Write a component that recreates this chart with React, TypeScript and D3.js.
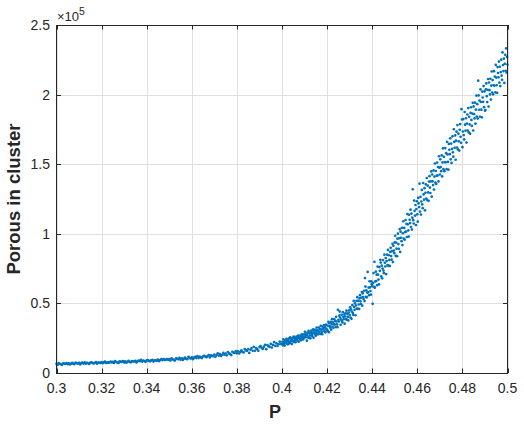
import React from "react";
import * as d3 from "d3";

// x tick labels and y tick values (×10^5)
const xTicks = [0.3, 0.32, 0.34, 0.36, 0.38, 0.4, 0.42, 0.44, 0.46, 0.48, 0.5];
const yTicks = [0, 0.5, 1, 1.5, 2, 2.5];

// Sweep of P: low range sampled every 0.0005 from 0.3, high range every 0.0002 from 0.4002
const lowStart = 0.3;
const lowStep = 0.0005;
const highStart = 0.4002;
const highStep = 0.0002;

// Porous in cluster (thousands), P = 0.300 – 0.400
const porousLowK = [
  6.6, 5.9, 7.1, 6.6, 6.2, 5.9, 7.0, 6.7, 6.5, 7.2,
  6.3, 7.0, 6.1, 6.7, 7.3, 6.6, 6.4, 7.5, 7.0, 6.8,
  7.3, 6.2, 7.1, 7.4, 6.7, 7.6, 6.7, 7.3, 7.0, 6.5,
  7.5, 7.7, 7.1, 6.9, 7.3, 7.9, 6.7, 7.5, 7.4, 7.2,
  7.8, 7.0, 7.6, 8.1, 7.2, 7.6, 7.4, 7.6, 8.1, 7.6,
  7.95, 7.2, 8.5, 7.9, 7.5, 7.2, 8.4, 8.1, 7.9, 8.6,
  7.6, 8.3, 7.4, 8.1, 8.7, 8.0, 7.7, 8.6, 8.4, 8.2,
  8.75, 7.6, 8.5, 8.95, 8.5, 9.5, 8.2, 8.9, 8.6, 8.0,
  9.0, 9.3, 8.7, 8.4, 9.0, 9.5, 8.2, 9.0, 9.0, 8.8,
  9.6, 8.6, 9.3, 9.95, 9.3, 9.9, 9.4, 9.45, 10.05, 9.55,
  9.9, 8.95, 10.6, 9.85, 9.4, 8.95, 10.5, 10.15, 9.9, 10.85,
  9.6, 10.6, 9.4, 10.3, 11.1, 10.15, 9.9, 11.6, 10.9, 10.5,
  11.3, 9.9, 11.1, 11.6, 10.7, 12.1, 10.7, 11.7, 11.2, 10.7,
  12.0, 12.4, 11.7, 11.4, 12.2, 12.85, 11.2, 12.7, 12.3, 12.1,
  13.3, 11.6, 12.9, 14.1, 12.4, 13.5, 12.3, 13.1, 14.4, 13.2,
  14.0, 12.7, 15.1, 14.1, 13.5, 12.9, 15.2, 14.7, 14.4, 15.8,
  14.1, 15.5, 14.0, 15.2, 16.3, 15.1, 14.8, 17.2, 16.2, 15.8,
  17.2, 14.4, 16.7, 17.9, 16.0, 18.8, 16.0, 17.9, 17.1, 16.0,
  18.6, 19.4, 18.0, 17.3, 18.9, 20.3, 17.1, 20.1, 19.2, 18.8,
  20.9, 18.3, 20.2, 22.2, 19.5, 21.3, 19.4, 20.7, 22.6, 20.9,
  21.0,
];

// Porous in cluster (thousands), P = 0.4002 – 0.5000
const porousHighK = [
  22.4, 19.9, 24.1, 22.2, 21.0, 19.7, 23.7, 22.7, 22.0, 24.5, 21.2, 23.6, 20.6, 22.8, 24.7, 22.1, 21.4, 25.7, 23.7, 22.8, 24.7, 20.9, 23.9, 25.3, 22.8,
  26.1, 22.3, 24.8, 23.6, 22.1, 25.3, 26.2, 24.2, 23.3, 25.2, 26.8, 22.5, 26.2, 25.0, 24.3, 26.8, 23.5, 25.7, 27.8, 24.6, 26.4, 24.1, 25.5, 27.7, 25.5,
  29.6, 27.0, 25.7, 28.3, 23.2, 27.1, 29.0, 25.6, 30.3, 25.2, 28.5, 26.9, 24.9, 29.2, 30.4, 27.7, 26.5, 29.0, 31.3, 25.4, 30.5, 28.9, 27.9, 31.2, 26.8,
  29.7, 32.7, 28.2, 30.8, 27.8, 29.7, 32.6, 29.6, 31.5, 28.1, 33.9, 31.2, 29.5, 27.9, 33.3, 32.0, 31.1, 34.4, 30.0, 33.3, 29.2, 32.1, 34.7, 31.3, 30.4,
  30.5, 33.8, 36.7, 29.3, 35.8, 33.6, 32.5, 36.7, 31.1, 34.9, 38.7, 33.0, 36.4, 32.5, 35.0, 38.7, 34.8, 37.3, 33.0, 40.4, 37.0, 34.9, 32.9, 45.4, 38.2,
  37.0, 41.2, 44.1, 39.8, 34.6, 38.4, 41.8, 37.5, 36.3, 43.7, 40.2, 38.6, 42.0, 35.4, 40.6, 43.0, 38.7, 44.8, 38.2, 42.5, 40.3, 37.8, 43.4, 45.0, 41.6,
  47.2, 39.8, 45.7, 38.9, 44.1, 48.7, 43.1, 41.8, 51.8, 47.4, 45.4, 50.0, 41.5, 48.5, 51.9, 46.3, 54.5, 46.0, 51.8, 49.2, 46.0, 53.6, 55.9, 51.5, 49.5,
  54.1, 58.1, 48.4, 57.2, 54.6, 53.2, 59.0, 51.7, 68.2, 62.1, 54.7, 59.3, 54.4, 57.8, 72.6, 58.0, 61.4, 55.9, 65.9, 61.5, 58.9, 56.3, 65.8, 63.8, 62.4,
  49.7, 64.8, 71.8, 61.9, 79.9, 61.3, 65.8, 72.8, 66.1, 70.6, 63.1, 76.4, 70.6, 67.1, 63.6, 76.1, 73.4, 81.3, 79.3, 69.4, 77.1, 68.0, 75.0, 81.1, 73.6,
  71.7, 85.0, 79.2, 76.5, 82.6, 71.1, 80.4, 85.0, 77.5, 88.4, 76.9, 84.6, 81.2, 76.9, 87.0, 89.9, 84.0, 81.4, 87.5, 92.8, 79.7, 91.4, 88.0, 86.1, 93.8,
  98.6, 84.2, 93.7, 89.3, 83.9, 96.5, 100.1, 92.6, 89.2, 96.8, 103.4, 87.0, 101.5, 97.1, 94.7, 104.3, 91.9, 100.4, 109.0, 96.6, 104.2, 95.8, 101.3, 109.9, 101.5,
  107.1, 97.7, 114.2, 106.8, 102.4, 98.0, 113.6, 110.1, 107.7, 117.3, 104.9, 114.5, 103.0, 111.6, 132.0, 109.8, 107.4, 123.9, 116.5, 113.1, 120.7, 106.3, 117.8, 123.4, 114.0,
  108.7, 125.8, 121.9, 119.2, 136.0, 116.0, 126.5, 113.8, 123.2, 131.5, 121.1, 118.4, 136.5, 128.3, 124.5, 132.8, 116.9, 129.5, 135.6, 125.2, 140.1, 124.2, 134.6, 129.7, 123.7,
  137.5, 141.4, 133.1, 129.3, 137.6, 144.8, 126.7, 142.6, 137.7, 135.0, 145.5, 131.8, 141.1, 150.5, 136.8, 145.1, 135.8, 141.8, 151.2, 141.9, 148.0, 137.6, 155.7, 147.5, 142.6,
  153.5, 148.0, 145.0, 156.3, 141.2, 151.3, 161.4, 146.4, 155.3, 145.0, 151.5, 161.6, 151.4, 157.9, 146.4, 166.1, 157.0, 151.6, 146.1, 164.6, 160.3, 157.2, 168.6, 153.5, 164.8,
  150.9, 161.0, 170.0, 158.5, 155.4, 175.1, 166.0, 161.8, 170.7, 153.2, 166.9, 173.4, 162.0, 178.1, 160.6, 171.9, 166.4, 159.8, 174.7, 178.8, 169.7, 165.4, 189.5, 182.1, 162.2,
  173.5, 182.4, 170.9, 167.8, 187.5, 178.4, 174.1, 183.0, 165.5, 179.2, 185.7, 174.2, 190.3, 172.8, 184.1, 178.6, 171.9, 186.8, 190.9, 181.8, 177.5, 186.4, 194.1, 174.2, 191.5,
  186.0, 182.9, 194.2, 179.1, 189.2, 199.3, 184.2, 193.1, 182.8, 210.0, 199.4, 189.1, 195.6, 184.1, 203.8, 194.7, 189.2, 183.7, 202.2, 197.9, 194.8, 206.1, 191.0, 202.3, 188.4,
  188.9, 203.8, 208.0, 198.9, 194.6, 203.5, 211.2, 191.4, 208.7, 203.2, 200.1, 211.4, 196.4, 206.5, 216.6, 201.5, 210.4, 200.2, 206.7, 216.8, 206.5, 213.0, 201.6, 221.3, 212.2,
  206.7, 201.2, 219.8, 215.5, 212.4, 223.7, 208.6, 220.0, 206.1, 216.2, 225.1, 213.6, 210.6, 230.3, 221.2, 216.9, 225.8, 208.4, 222.1, 228.6, 217.1, 233.2, 215.8, 227.1, 221.6,
];

const W = 524;
const H = 427;
const M = { left: 56.5, right: 507.5, top: 25, bottom: 373 };
const AXIS = "#262626";
const GRID = "#dfdfdf";
const DOT = "#0072BD";

export default function App() {
  const x = d3.scaleLinear().domain([0.3, 0.5]).range([M.left, M.right]);
  const y = d3.scaleLinear().domain([0, 2.5e5]).range([M.bottom, M.top]);

  const pts: [number, number][] = [];
  porousLowK.forEach((v, i) => pts.push([lowStart + i * lowStep, v * 1000]));
  porousHighK.forEach((v, i) => pts.push([highStart + i * highStep, v * 1000]));

  const font = "Arial, 'Liberation Sans', Helvetica, sans-serif";
  const tickLen = 4.5;

  return (
    <svg
      width={W}
      height={H}
      style={{ position: "absolute", left: 0, top: 0, background: "#fff" }}
      fontFamily={font}
    >
      <rect x={0} y={0} width={W} height={H} fill="#fff" />
      {xTicks.map((t) => (
        <line key={"gx" + t} x1={Math.round(x(t)) + 0.5} x2={Math.round(x(t)) + 0.5} y1={M.top} y2={M.bottom} stroke={GRID} strokeWidth={1} />
      ))}
      {yTicks.map((t) => (
        <line key={"gy" + t} x1={M.left} x2={M.right} y1={Math.round(y(t * 1e5)) + 0.5} y2={Math.round(y(t * 1e5)) + 0.5} stroke={GRID} strokeWidth={1} />
      ))}
      <g fill={DOT}>
        {pts.map(([p, v], i) => (
          <circle key={i} cx={x(p)} cy={y(v)} r={1.35} />
        ))}
      </g>
      <rect x={M.left} y={M.top + 0.5} width={M.right - M.left} height={M.bottom - M.top} fill="none" stroke={AXIS} strokeWidth={1} />
      {xTicks.map((t) => {
        const xx = Math.round(x(t)) + 0.5;
        return (
          <g key={"tx" + t}>
            <line x1={xx} x2={xx} y1={M.bottom} y2={M.bottom - tickLen} stroke={AXIS} />
            <line x1={xx} x2={xx} y1={M.top} y2={M.top + tickLen} stroke={AXIS} />
            <text x={x(t)} y={393} textAnchor="middle" fontSize={14} fill={AXIS}>
              {String(t)}
            </text>
          </g>
        );
      })}
      {yTicks.map((t) => {
        const yy = Math.round(y(t * 1e5)) + 0.5;
        return (
          <g key={"ty" + t}>
            <line x1={M.left} x2={M.left + tickLen} y1={yy} y2={yy} stroke={AXIS} />
            <line x1={M.right} x2={M.right - tickLen} y1={yy} y2={yy} stroke={AXIS} />
            <text x={50} y={y(t * 1e5) + 5} textAnchor="end" fontSize={14} fill={AXIS}>
              {String(t)}
            </text>
          </g>
        );
      })}
      <text x={57} y={21} fontSize={13} fill={AXIS}>
        ×10
        <tspan dy={-6} fontSize={10.5}>5</tspan>
      </text>
      <text x={275} y={418} textAnchor="middle" fontSize={18} fontWeight="bold" fill={AXIS}>
        P
      </text>
      <text
        transform={`translate(19.5, ${(M.top + M.bottom) / 2}) rotate(-90)`}
        textAnchor="middle"
        fontSize={18.5}
        fontWeight="bold"
        fill={AXIS}
      >
        Porous in cluster
      </text>
    </svg>
  );
}
